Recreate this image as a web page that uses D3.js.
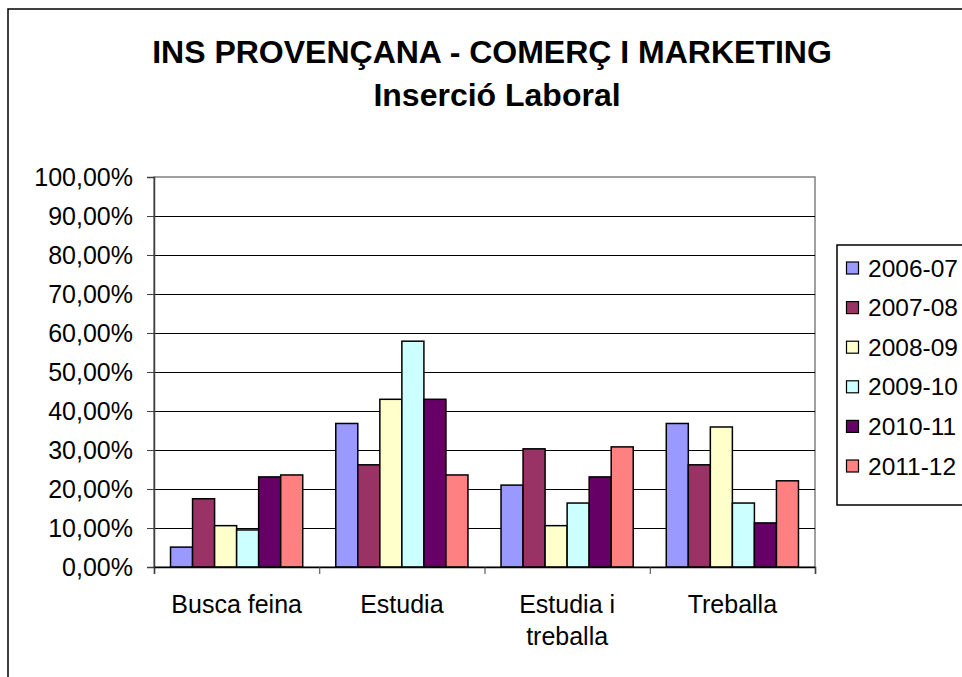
<!DOCTYPE html>
<html>
<head>
<meta charset="utf-8">
<script src="https://cdn.jsdelivr.net/npm/d3@7"></script>
<style>
  html, body { margin: 0; padding: 0; background: #fff; overflow: hidden; }
  svg { display: block; font-family: "Liberation Sans", Arial, sans-serif; }
</style>
</head>
<body>
<svg id="chart" width="962" height="677"></svg>
<script>
const categories = ["Busca feina", "Estudia", "Estudia i treballa", "Treballa"];
const categoryLines = [["Busca feina"], ["Estudia"], ["Estudia i", "treballa"], ["Treballa"]];
const series = ["2006-07", "2007-08", "2008-09", "2009-10", "2010-11", "2011-12"];
const v2006 = [5.1, 36.8, 21.0, 36.8];
const v2007 = [17.5, 26.2, 30.3, 26.2];
const v2008 = [10.6, 43.0, 10.6, 35.9];
const v2009 = [9.5, 57.9, 16.4, 16.4];
const v2010 = [23.1, 43.0, 23.1, 11.3];
const v2011 = [23.6, 23.6, 30.8, 22.1];
const seriesValues = [v2006, v2007, v2008, v2009, v2010, v2011];
const colors = ["#9999FF", "#993366", "#FFFFCC", "#CCFFFF", "#660066", "#FF8080"];
const yTicks = [0, 10, 20, 30, 40, 50, 60, 70, 80, 90, 100];
const titleLines = ["INS PROVENÇANA - COMERÇ I MARKETING", "Inserció Laboral"];

const svg = d3.select("#chart");
const L = 154, R = 815, T = 177, B = 567;

// outer chart border (extends past viewport)
svg.append("rect").attr("x", 8).attr("y", 9).attr("width", 1100).attr("height", 800)
  .attr("fill", "#fff").attr("stroke", "#000").attr("stroke-width", 1.5);

// titles
svg.append("text").attr("x", 492).attr("y", 63).attr("text-anchor", "middle")
  .attr("font-size", 32).attr("font-weight", "bold").text(titleLines[0]);
svg.append("text").attr("x", 497).attr("y", 106).attr("text-anchor", "middle")
  .attr("font-size", 32).attr("font-weight", "bold").text(titleLines[1]);

const y = d3.scaleLinear().domain([0, 100]).range([B, T]);
const x0 = d3.scaleBand().domain(categories).range([L, R]).paddingInner(0.2).paddingOuter(0.1);
const x1 = d3.scaleBand().domain(series).range([0, x0.bandwidth()]);

// plot area border
svg.append("rect").attr("x", L).attr("y", T).attr("width", R - L).attr("height", B - T)
  .attr("fill", "#fff").attr("stroke", "#808080").attr("stroke-width", 1.5);

// gridlines
svg.append("g").selectAll("line").data(yTicks.filter(d => d > 0 && d < 100)).join("line")
  .attr("x1", L).attr("x2", R).attr("y1", d => Math.round(y(d)) + 0.5).attr("y2", d => Math.round(y(d)) + 0.5)
  .attr("stroke", "#000").attr("stroke-width", 1);

// bars
const groups = svg.append("g").selectAll("g").data(categories).join("g")
  .attr("transform", d => `translate(${x0(d)},0)`);
groups.selectAll("rect").data((c, ci) => series.map((s, si) => ({ s, si, v: seriesValues[si][ci] })))
  .join("rect")
  .attr("x", d => x1(d.s)).attr("width", x1.bandwidth())
  .attr("y", d => y(d.v)).attr("height", d => B - y(d.v))
  .attr("fill", d => colors[d.si]).attr("stroke", "#000").attr("stroke-width", 1.5);

// y axis
const fmt = d => d.toFixed(2).replace(".", ",") + "%";
const yAxis = d3.axisLeft(y).tickValues(yTicks).tickFormat(fmt).tickSize(7).tickPadding(14);
const gy = svg.append("g").attr("transform", `translate(${L},0)`).call(yAxis);
gy.select(".domain").attr("stroke", "#404040").attr("stroke-width", 1.5);
gy.selectAll(".tick line").attr("stroke", "#404040");
gy.selectAll(".tick text").attr("font-size", 25).attr("font-family", "Liberation Sans, Arial, sans-serif")
  .attr("fill", "#000").attr("dy", "0.35em");

// x axis
const xAxisScale = d3.scaleLinear().domain([0, categories.length]).range([L, R]);
const gx = svg.append("g").attr("transform", `translate(0,${B})`)
  .call(d3.axisBottom(xAxisScale).tickValues(d3.range(categories.length + 1)).tickFormat("").tickSize(7));
gx.select(".domain").attr("stroke", "#000").attr("stroke-width", 1.5);
gx.selectAll(".tick line").attr("stroke", "#404040");

// category labels
categories.forEach((c, i) => {
  const t = svg.append("text").attr("x", x0(c) + x0.bandwidth() / 2).attr("y", 613)
    .attr("text-anchor", "middle").attr("font-size", 25);
  categoryLines[i].forEach((ln, k) => {
    t.append("tspan").attr("x", x0(c) + x0.bandwidth() / 2).attr("dy", k === 0 ? 0 : 32).text(ln);
  });
});

// legend (box extends past the right edge)
svg.append("rect").attr("x", 837).attr("y", 245).attr("width", 300).attr("height", 260)
  .attr("fill", "#fff").attr("stroke", "#000").attr("stroke-width", 1.5);
const lg = svg.append("g").selectAll("g").data(series).join("g")
  .attr("transform", (d, i) => `translate(846,${268 + i * 39.6})`);
lg.append("rect").attr("x", 0.5).attr("y", -6).attr("width", 12).attr("height", 12)
  .attr("fill", (d, i) => colors[i]).attr("stroke", "#000").attr("stroke-width", 1.2);
lg.append("text").attr("x", 22).attr("y", 8.5).attr("font-size", 24.5).text(d => d);
</script>
</body>
</html>
